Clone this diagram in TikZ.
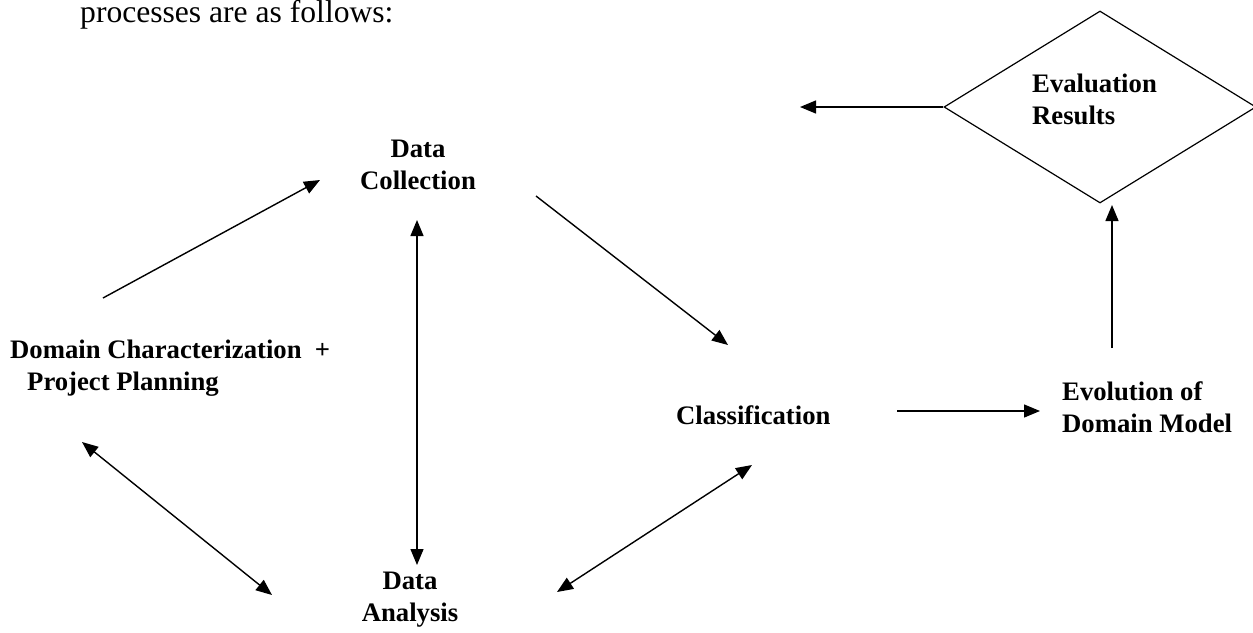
\documentclass[tikz,border=0pt]{standalone}
\usepackage{fontspec}
\setmainfont{Liberation Serif}
\usetikzlibrary{arrows.meta,shapes.geometric}
\begin{document}
\begin{tikzpicture}[x=1pt,y=-1pt,
  lbl/.style={font=\bfseries\fontsize{26.7}{32}\selectfont, inner sep=0pt},
  conn/.style={line width=1.4pt,-{Triangle[length=16pt,width=13pt]}},
  biconn/.style={line width=1.4pt,{Triangle[length=16pt,width=13pt]}-{Triangle[length=16pt,width=13pt]}},
  decision/.style={draw,shape=diamond,line width=1.2pt,inner sep=0pt,minimum width=312pt,minimum height=192pt}]
\useasboundingbox (0,0) rectangle (1253,632);
\clip (0,0) rectangle (1253,632);

\node[anchor=base west, inner sep=0pt, font=\fontsize{31.6}{36}\selectfont] (intro) at (80,22) {processes are as follows:};

\node[decision] (dia) at (1100,107) {};
\node[lbl, align=left, anchor=west] (eval) at (1032,99) {Evaluation\\Results};

\node[lbl, align=center] (dc) at (418,165) {Data\\Collection};
\node[lbl, align=left, anchor=west] (dom) at (10,368) {Domain Characterization\ \ +\\\hspace{17pt}Project Planning};
\node[lbl, anchor=west] (cls) at (676,415) {Classification};
\node[lbl, align=left, anchor=west] (evo) at (1062,407) {Evolution of\\Domain Model};
\node[lbl, align=center] (da) at (410,600) {Data\\Analysis};

\coordinate (p1) at (103,298);
\coordinate (p2) at (320,180);
\coordinate (p3) at (536,196);
\coordinate (p4) at (728,345);
\coordinate (p5) at (417,220);
\coordinate (p6) at (417,565);
\coordinate (p7) at (82,442);
\coordinate (p8) at (272,595);
\coordinate (p9) at (557,592);
\coordinate (p10) at (752,465);
\coordinate (p11) at (897,411);
\coordinate (p12) at (1040,411);
\coordinate (p13) at (1112,348);
\coordinate (p14) at (1112,205);
\coordinate (p15) at (800,107);

\draw[conn] (dia.west) -- (p15);
\draw[conn] (p1) -- (p2);
\draw[conn] (p3) -- (p4);
\draw[biconn] (p5) -- (p6);
\draw[biconn] (p7) -- (p8);
\draw[biconn] (p9) -- (p10);
\draw[conn] (p11) -- (p12);
\draw[conn] (p13) -- (p14);
\end{tikzpicture}
\end{document}
